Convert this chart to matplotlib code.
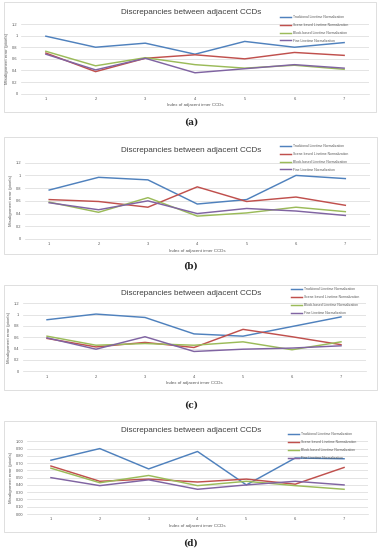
import matplotlib
matplotlib.use("Agg")
import matplotlib.pyplot as plt
from matplotlib.patches import Rectangle
from matplotlib.ticker import FuncFormatter

W, H = 381, 550

ccd_index = [1, 2, 3, 4, 5, 6, 7]
series_names = ["Traditional Linetime Normalization",
                "Scene-based Linetime Normalization",
                "Block-based Linetime Normalization",
                "Fine Linetime Normalization"]
colors = ["#4F81BD", "#C0504D", "#9BBB59", "#8064A2"]

# panel (a)
a_trad = [0.99, 0.80, 0.87, 0.68, 0.90, 0.80, 0.88]
a_scene = [0.70, 0.38, 0.61, 0.67, 0.60, 0.71, 0.66]
a_block = [0.73, 0.48, 0.62, 0.50, 0.44, 0.49, 0.42]
a_fine = [0.68, 0.41, 0.61, 0.36, 0.43, 0.50, 0.44]

# panel (b)
b_trad = [0.77, 0.97, 0.93, 0.55, 0.62, 1.00, 0.95]
b_scene = [0.62, 0.59, 0.50, 0.82, 0.59, 0.66, 0.53]
b_block = [0.58, 0.42, 0.65, 0.36, 0.41, 0.50, 0.43]
b_fine = [0.57, 0.46, 0.60, 0.40, 0.48, 0.44, 0.37]

# panel (c)
c_trad = [0.91, 1.01, 0.95, 0.66, 0.62, 0.79, 0.96]
c_scene = [0.58, 0.43, 0.51, 0.42, 0.74, 0.61, 0.47]
c_block = [0.62, 0.46, 0.49, 0.46, 0.52, 0.38, 0.52]
c_fine = [0.59, 0.39, 0.61, 0.35, 0.39, 0.41, 0.45]

# panel (d)
d_trad = [0.74, 0.90, 0.62, 0.86, 0.40, 0.77, 0.76]
d_scene = [0.66, 0.45, 0.48, 0.44, 0.48, 0.41, 0.64]
d_block = [0.63, 0.43, 0.53, 0.39, 0.45, 0.39, 0.34]
d_fine = [0.50, 0.39, 0.47, 0.34, 0.40, 0.45, 0.40]

panel_data = [
    [a_trad, a_scene, a_block, a_fine],
    [b_trad, b_scene, b_block, b_fine],
    [c_trad, c_scene, c_block, c_fine],
    [d_trad, d_scene, d_block, d_fine],
]
panel_labels = ["(a)", "(b)", "(c)", "(d)"]

# layout in pixels: box (x0, y0, x1, y1), plot (x0, ytop, x1, ybottom), title y,
# legend (x, ytop), caption y
layout = [
    dict(box=(4, 2, 376, 112), plot=(21, 24, 369, 93.7), title=12.5,
         legend=(278, 13.5), cap=122, ymax=1.2, ystep=0.2, fmt="g"),
    dict(box=(4, 137, 377, 254), plot=(24.5, 162.7, 370, 239), title=150,
         legend=(278, 142.5), cap=266, ymax=1.2, ystep=0.2, fmt="g"),
    dict(box=(4, 285, 377, 390), plot=(22.5, 303.3, 365.5, 371.3), title=293.5,
         legend=(289, 285.5), cap=405, ymax=1.2, ystep=0.2, fmt="g"),
    dict(box=(4, 421, 376, 532), plot=(26.5, 441.3, 368.5, 514), title=430,
         legend=(286, 430.5), cap=543, ymax=1.0, ystep=0.1, fmt="2f"),
]

plt.rcParams["font.family"] = ["Liberation Sans", "DejaVu Sans"]

fig = plt.figure(figsize=(W / 100, H / 100), dpi=100)
fig.patch.set_facecolor("white")


def frac(x0, y0, x1, y1):
    return [x0 / W, 1 - y1 / H, (x1 - x0) / W, (y1 - y0) / H]


for data, lab, lay in zip(panel_data, panel_labels, layout):
    bx = frac(*lay["box"])
    fig.add_artist(Rectangle((bx[0], bx[1]), bx[2], bx[3], transform=fig.transFigure,
                             facecolor="none", edgecolor="#D9D9D9", linewidth=0.6,
                             zorder=-1))

    ax = fig.add_axes(frac(*lay["plot"]))
    ax.set_facecolor("none")
    for name, vals, col in zip(series_names, data, colors):
        ax.plot(ccd_index, vals, color=col, linewidth=1.05, label=name)

    ax.set_xlim(0.5, 7.5)
    ax.set_ylim(0, lay["ymax"])
    n = int(round(lay["ymax"] / lay["ystep"]))
    ticks = [i * lay["ystep"] for i in range(n + 1)]
    ax.set_yticks(ticks)
    if lay["fmt"] == "g":
        ax.yaxis.set_major_formatter(FuncFormatter(lambda v, p: f"{v:g}"))
    else:
        ax.yaxis.set_major_formatter(FuncFormatter(lambda v, p: f"{v:.2f}"))
    ax.set_xticks(ccd_index)
    ax.grid(axis="y", color="#D9D9D9", linewidth=0.5)
    ax.set_axisbelow(True)
    for s in ax.spines.values():
        s.set_visible(False)
    ax.spines["bottom"].set_visible(True)
    ax.spines["bottom"].set_color("#D9D9D9")
    ax.spines["bottom"].set_linewidth(0.5)
    ax.tick_params(length=0, labelsize=2.9, colors="#595959", pad=2.5)
    ax.set_xlabel("Index of adjacent inner CCDs", fontsize=3.2, color="#595959", labelpad=1.5)
    ax.set_ylabel("Misalignment error (pixels)", fontsize=3.2, color="#595959", labelpad=2)

    fig.text(191 / W, 1 - lay["title"] / H, "Discrepancies between adjacent CCDs",
             ha="center", va="center", fontsize=5.9, color="#404040")

    lx, ly = lay["legend"]
    ax.legend(loc="upper left", bbox_to_anchor=(lx / W, 1 - ly / H),
              bbox_transform=fig.transFigure, frameon=False, fontsize=2.4,
              handlelength=3.5, handletextpad=0.4, labelspacing=1.15,
              borderpad=0, labelcolor="#595959")

    fig.text(191 / W, 1 - lay["cap"] / H, lab, ha="center", va="center",
             fontsize=6.5, fontweight="bold", family="DejaVu Serif", color="#222222")

fig.savefig("out.png", dpi=100, facecolor="white")
